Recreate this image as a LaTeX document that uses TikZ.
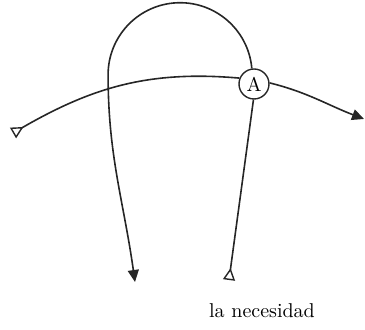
\documentclass[tikz,border=0pt]{standalone}
\usetikzlibrary{arrows.meta}
\tikzset{
  flow/.style = {line width=.8pt, draw=black!85},
  tailtip/.style = {{Triangle[open,reversed,length=6pt,width=6pt,line width=.7pt]}-},
  headtip/.style = {-{Triangle[length=6pt,width=5.5pt]}},
  punto/.style = {circle, draw=black!85, line width=.7pt, minimum size=15pt, inner sep=0pt}
}
\begin{document}
\begin{tikzpicture}[x=.5pt,y=.5pt]
\useasboundingbox (0,0) rectangle (365,330);
\node[punto] (A) at (254,246) {A};
\coordinate (izq) at (13,197);
\coordinate (der) at (364,211);
\coordinate (abajo) at (229,50);
\coordinate (final) at (135,48);
\draw[flow, tailtip] (izq) to[out=30,in=175] (A.158);
\draw[flow, headtip] (A.4) to[out=-14,in=159] (der);
\draw[flow, tailtip] (abajo) -- (A.-92);
\draw[flow, headtip] (A.98) arc[start angle=5, end angle=180, radius=36pt] to[out=-90,in=98] (final);
\node (texto) at (262,19) {la necesidad};
\end{tikzpicture}
\end{document}
